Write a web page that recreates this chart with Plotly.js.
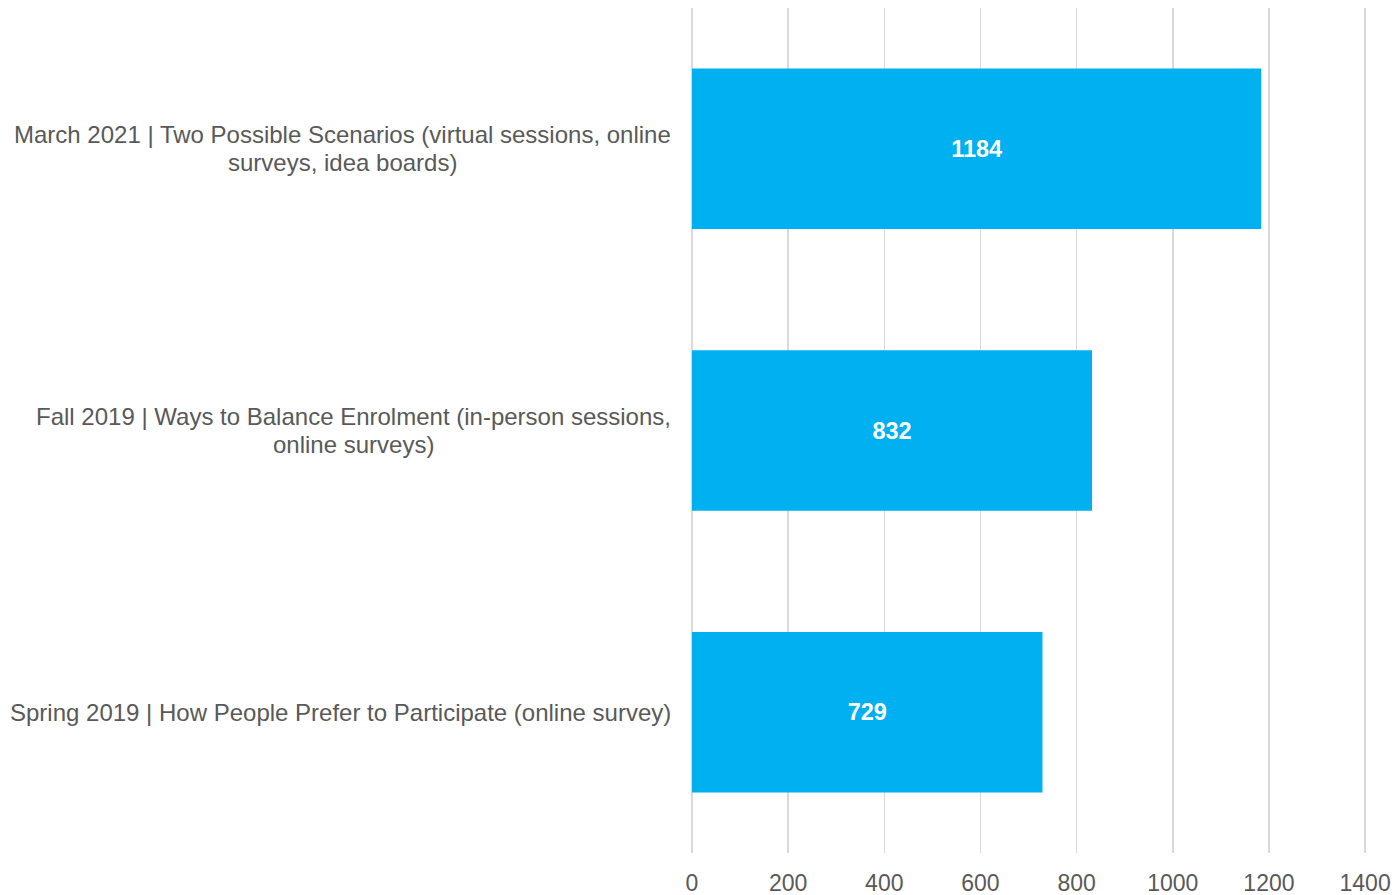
<!DOCTYPE html>
<html>
<head>
<meta charset="utf-8">
<script src="https://cdn.plot.ly/plotly-3.0.1.min.js"></script>
<style>html,body{margin:0;padding:0;background:#fff;}#chart{width:1398px;height:895px;}</style>
</head>
<body>
<div id="chart"></div>
<script>
const categories = [
  "Spring 2019 | How People Prefer to Participate (online survey)",
  "Fall 2019 | Ways to Balance Enrolment (in-person sessions,<br>online surveys)",
  "March 2021 | Two Possible Scenarios (virtual sessions, online<br>surveys, idea boards)"
];
const participants = [729, 832, 1184];
const xTickValues = [0, 200, 400, 600, 800, 1000, 1200, 1400];

const catIds = categories.map((c, i) => "c" + i);
const labelFont = {family: "Liberation Sans, Arial, sans-serif", size: 24, color: "#595959"};
const lineGap = 28;

const trace = {
  type: "bar",
  orientation: "h",
  y: catIds,
  x: participants,
  marker: {color: "#00B0F0"},
  text: participants.map(v => "<b>" + v + "</b>"),
  textposition: "inside",
  insidetextanchor: "middle",
  textfont: {family: "Liberation Sans, Arial, sans-serif", size: 23.5, color: "#ffffff"},
  hoverinfo: "skip"
};

const ctx = document.createElement("canvas").getContext("2d");
ctx.font = labelFont.size + "px 'Liberation Sans', Arial, sans-serif";

const annotations = [];
categories.forEach((c, i) => {
  const lines = c.split("<br>");
  const widths = lines.map(l => ctx.measureText(l).width);
  const maxW = Math.max(...widths);
  lines.forEach((l, j) => {
    annotations.push({
      xref: "paper", yref: "y",
      x: 0, y: catIds[i],
      xshift: -21 - maxW / 2,
      yshift: ((lines.length - 1) / 2 - j) * lineGap,
      xanchor: "center", yanchor: "middle",
      text: l,
      showarrow: false,
      font: labelFont
    });
  });
});

const layout = {
  width: 1398, height: 895,
  margin: {l: 692, r: 31, t: 8, b: 42},
  paper_bgcolor: "#ffffff",
  plot_bgcolor: "#ffffff",
  showlegend: false,
  bargap: 0.43,
  xaxis: {
    range: [0, 1404],
    tickvals: xTickValues,
    ticktext: xTickValues.map(String),
    showgrid: true,
    gridcolor: "#d9d9d9",
    gridwidth: 1.5,
    zeroline: true,
    zerolinecolor: "#d9d9d9",
    zerolinewidth: 1.5,
    showline: false,
    ticks: "",
    ticklabelstandoff: 14,
    tickfont: {family: "Liberation Sans, Arial, sans-serif", size: 23, color: "#595959"}
  },
  yaxis: {
    type: "category",
    showticklabels: false,
    showgrid: false,
    zeroline: false,
    showline: false,
    ticks: ""
  },
  annotations: annotations,
  font: {family: "Liberation Sans, Arial, sans-serif"}
};

Plotly.newPlot("chart", [trace], layout, {displayModeBar: false, staticPlot: true});
</script>
</body>
</html>
